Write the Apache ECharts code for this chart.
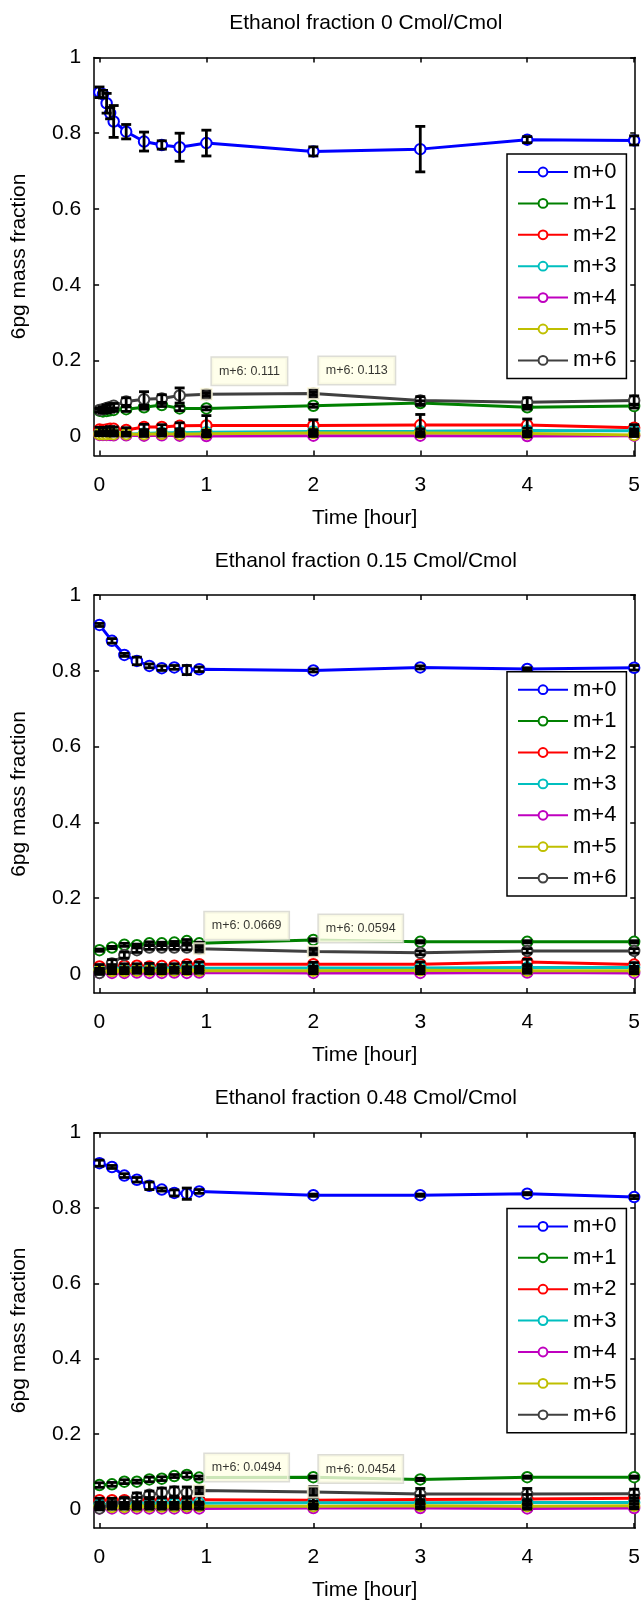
<!DOCTYPE html>
<html><head><meta charset="utf-8">
<script src="https://cdn.jsdelivr.net/npm/echarts@6/dist/echarts.min.js"></script>
<style>html,body{margin:0;padding:0;background:#fff}#c{width:643px;height:1602px}</style>
</head><body><div id="c"></div><script>
// ---------- data ----------
const seriesNames = ['m+0','m+1','m+2','m+3','m+4','m+5','m+6'];
const seriesColors = ['#0000ff','#008000','#ff0000','#00bfbf','#bf00bf','#bfbf00','#404040'];
const panelTitles = ['Ethanol fraction 0 Cmol/Cmol','Ethanol fraction 0.15 Cmol/Cmol','Ethanol fraction 0.48 Cmol/Cmol'];
const xTicks = [0,1,2,3,4,5];
const yTicks = [0,0.2,0.4,0.6,0.8,1];
const xLabel = 'Time [hour]';
const yLabel = '6pg mass fraction';

// Panel 1: ethanol fraction 0
const time0 = [0,0.033,0.067,0.1,0.133,0.25,0.417,0.583,0.75,1,2,3,4,5];
const e0_m0 = [0.908,0.903,0.879,0.853,0.831,0.804,0.778,0.769,0.763,0.774,0.752,0.758,0.783,0.781];
const e0_m1 = [0.068,0.066,0.067,0.069,0.07,0.072,0.077,0.083,0.074,0.074,0.081,0.088,0.077,0.08];
const e0_m2 = [0.018,0.017,0.018,0.02,0.02,0.017,0.025,0.025,0.028,0.029,0.029,0.03,0.03,0.023];
const e0_m3 = [0.008,0.008,0.009,0.009,0.008,0.006,0.008,0.01,0.01,0.011,0.013,0.014,0.016,0.015];
const e0_m4 = [0.004,0.004,0.004,0.004,0.003,0.003,0.002,0.003,0.002,0.001,0.002,0.002,0.001,0.002];
const e0_m5 = [0.006,0.006,0.006,0.007,0.006,0.006,0.006,0.007,0.006,0.007,0.009,0.009,0.008,0.004];
const e0_m6 = [0.07,0.072,0.075,0.078,0.081,0.092,0.098,0.1,0.108,0.111,0.113,0.095,0.09,0.095];
const e0_m0_err = [0.014,0.01,0.026,0.015,0.042,0.019,0.025,0.011,0.037,0.034,0.012,0.06,0.008,0.012];
const e0_m1_err = [0.004,0.004,0.005,0.005,0.004,0.006,0.005,0.004,0.006,0.004,0.004,0.006,0.005,0.005];
const e0_m2_err = [0.006,0.005,0.006,0.006,0.005,0.006,0.007,0.006,0.008,0.026,0.015,0.028,0.016,0.008];
const e0_m3_err = [0.004,0.004,0.004,0.004,0.004,0.004,0.004,0.004,0.004,0.005,0.005,0.006,0.006,0.005];
const e0_m4_err = [0.002,0.002,0.002,0.002,0.002,0.002,0.002,0.002,0.002,0.002,0.002,0.002,0.002,0.002];
const e0_m5_err = [0.003,0.003,0.003,0.003,0.003,0.003,0.003,0.003,0.004,0.004,0.004,0.004,0.004,0.003];
const e0_m6_err = [0.005,0.006,0.008,0.008,0.006,0.01,0.02,0.01,0.02,0.004,0.004,0.01,0.012,0.012];
const e0_tipIdx = [9,10];

// Panel 2: ethanol fraction 0.15
const time15 = [0,0.117,0.233,0.35,0.467,0.583,0.7,0.817,0.933,2,3,4,5];
const e15_m0 = [0.921,0.879,0.842,0.826,0.813,0.807,0.809,0.802,0.804,0.801,0.809,0.805,0.808];
const e15_m1 = [0.063,0.07,0.077,0.076,0.081,0.081,0.083,0.087,0.081,0.09,0.085,0.085,0.085];
const e15_m2 = [0.02,0.021,0.022,0.022,0.02,0.021,0.022,0.025,0.026,0.026,0.026,0.032,0.025];
const e15_m3 = [0.012,0.013,0.013,0.013,0.013,0.014,0.014,0.015,0.015,0.016,0.016,0.017,0.017];
const e15_m4 = [0.003,0.003,0.003,0.004,0.003,0.003,0.004,0.003,0.004,0.003,0.003,0.004,0.003];
const e15_m5 = [0.008,0.008,0.008,0.009,0.009,0.009,0.009,0.01,0.009,0.009,0.01,0.009,0.009];
const e15_m6 = [0.003,0.028,0.05,0.063,0.07,0.07,0.07,0.07,0.0669,0.0594,0.056,0.061,0.061];
const e15_m0_err = [0.004,0.006,0.004,0.01,0.005,0.006,0.005,0.012,0.006,0.004,0.004,0.003,0.006];
const e15_m1_err = [0.003,0.003,0.004,0.003,0.004,0.003,0.003,0.004,0.003,0.003,0.003,0.003,0.003];
const e15_m2_err = [0.005,0.004,0.005,0.005,0.008,0.004,0.005,0.006,0.006,0.005,0.006,0.007,0.005];
const e15_m3_err = [0.003,0.003,0.003,0.003,0.003,0.003,0.003,0.003,0.003,0.003,0.003,0.003,0.003];
const e15_m4_err = [0.002,0.002,0.002,0.002,0.002,0.002,0.002,0.002,0.002,0.002,0.002,0.002,0.002];
const e15_m5_err = [0.003,0.003,0.003,0.003,0.006,0.003,0.003,0.004,0.003,0.003,0.003,0.003,0.003];
const e15_m6_err = [0.004,0.01,0.008,0.006,0.005,0.005,0.005,0.006,0.004,0.006,0.005,0.006,0.006];
const e15_tipIdx = [8,9];

// Panel 3: ethanol fraction 0.48
const time48 = [0,0.117,0.233,0.35,0.467,0.583,0.7,0.817,0.933,2,3,4,5];
const e48_m0 = [0.919,0.909,0.886,0.875,0.859,0.849,0.84,0.838,0.844,0.834,0.834,0.838,0.829];
const e48_m1 = [0.064,0.066,0.073,0.073,0.079,0.081,0.088,0.091,0.084,0.085,0.079,0.085,0.085];
const e48_m2 = [0.024,0.024,0.024,0.025,0.025,0.024,0.024,0.025,0.025,0.024,0.026,0.027,0.029];
const e48_m3 = [0.012,0.013,0.013,0.014,0.014,0.015,0.015,0.016,0.016,0.017,0.017,0.018,0.018];
const e48_m4 = [0.002,0.002,0.002,0.002,0.002,0.002,0.002,0.003,0.002,0.003,0.003,0.002,0.003];
const e48_m5 = [0.006,0.006,0.006,0.007,0.007,0.007,0.007,0.008,0.008,0.008,0.009,0.008,0.009];
const e48_m6 = [0.002,0.013,0.02,0.031,0.038,0.044,0.047,0.044,0.0494,0.0454,0.04,0.04,0.041];
const e48_m0_err = [0.008,0.004,0.005,0.006,0.01,0.004,0.008,0.015,0.005,0.003,0.003,0.003,0.004];
const e48_m1_err = [0.006,0.005,0.005,0.004,0.006,0.005,0.004,0.006,0.004,0.003,0.003,0.003,0.003];
const e48_m2_err = [0.005,0.005,0.006,0.006,0.006,0.006,0.007,0.008,0.01,0.012,0.01,0.012,0.008];
const e48_m3_err = [0.003,0.003,0.003,0.003,0.003,0.003,0.003,0.003,0.003,0.004,0.004,0.004,0.004];
const e48_m4_err = [0.002,0.002,0.002,0.002,0.002,0.002,0.002,0.002,0.002,0.002,0.002,0.002,0.002];
const e48_m5_err = [0.003,0.003,0.003,0.003,0.003,0.003,0.003,0.003,0.004,0.004,0.004,0.004,0.004];
const e48_m6_err = [0.004,0.006,0.01,0.012,0.01,0.012,0.012,0.015,0.008,0.015,0.015,0.015,0.012];
const e48_tipIdx = [8,9];

// ---------- assembly ----------
const panelTimes = [time0, time15, time48];
const panelValues = [
  [e0_m0,e0_m1,e0_m2,e0_m3,e0_m4,e0_m5,e0_m6],
  [e15_m0,e15_m1,e15_m2,e15_m3,e15_m4,e15_m5,e15_m6],
  [e48_m0,e48_m1,e48_m2,e48_m3,e48_m4,e48_m5,e48_m6]
];
const panelErrors = [
  [e0_m0_err,e0_m1_err,e0_m2_err,e0_m3_err,e0_m4_err,e0_m5_err,e0_m6_err],
  [e15_m0_err,e15_m1_err,e15_m2_err,e15_m3_err,e15_m4_err,e15_m5_err,e15_m6_err],
  [e48_m0_err,e48_m1_err,e48_m2_err,e48_m3_err,e48_m4_err,e48_m5_err,e48_m6_err]
];
const panelTips = [e0_tipIdx, e15_tipIdx, e48_tipIdx];

const FONT = '"Liberation Sans", Arial, Helvetica, sans-serif';
const gridTops = [57.4, 595, 1132.7];
const legendTops = [154, 671.7, 1208.4];
const GRID_LEFT = 94.1, GRID_W = 543.4, GRID_H = 398;
const XMIN = -0.05, XMAX = 5.01, YMIN = -0.05, YMAX = 1;

const grids = [], xAxes = [], yAxes = [], titles = [], legends = [], series = [];
const axisLineStyle = {color:'#000', width:1.5};

for (let p = 0; p < 3; p++) {
  grids.push({left:GRID_LEFT, top:gridTops[p], width:GRID_W, height:GRID_H, containLabel:false});
  [false, true].forEach(isTop => {
    xAxes.push({
      type:'value', gridIndex:p, position:isTop?'top':'bottom', min:XMIN, max:XMAX,
      axisLine:{show:true, onZero:false, lineStyle:axisLineStyle},
      axisTick:{show:true, inside:true, length:5, customValues:xTicks, lineStyle:axisLineStyle},
      axisLabel:{show:!isTop, customValues:xTicks, margin:19, fontSize:21, color:'#000', fontFamily:FONT},
      splitLine:{show:false},
      name:isTop?'':xLabel, nameLocation:'middle', nameGap:52,
      nameTextStyle:{fontSize:21, color:'#000', fontFamily:FONT}
    });
    yAxes.push({
      type:'value', gridIndex:p, position:isTop?'right':'left', min:YMIN, max:YMAX,
      axisLine:{show:true, onZero:false, lineStyle:axisLineStyle},
      axisTick:{show:true, inside:true, length:5, customValues:yTicks, lineStyle:axisLineStyle},
      axisLabel:{show:!isTop, customValues:yTicks, margin:13, fontSize:21, color:'#000', fontFamily:FONT},
      splitLine:{show:false},
      name:isTop?'':yLabel, nameLocation:'middle', nameGap:64,
      nameTextStyle:{fontSize:21, color:'#000', fontFamily:FONT}
    });
  });
  titles.push({
    text:panelTitles[p], left:GRID_LEFT + GRID_W/2, textAlign:'center', top:gridTops[p]-44.5, padding:0,
    textStyle:{fontSize:21, fontWeight:'normal', color:'#000', fontFamily:FONT}
  });
  legends.push({
    data:seriesNames, orient:'vertical', left:507, top:legendTops[p], selectedMode:false,
    backgroundColor:'#fff', borderColor:'#000', borderWidth:1.5, borderRadius:0,
    padding:[7,10,7,10], itemWidth:50, itemHeight:11, itemGap:9.4,
    textStyle:{fontSize:22, lineHeight:22, color:'#000', fontFamily:FONT}
  });

  const t = panelTimes[p];
  const errData = [];
  seriesNames.forEach((name, k) => {
    const vals = panelValues[p][k];
    const errs = panelErrors[p][k];
    series.push({
      type:'line', name:name, xAxisIndex:p*2, yAxisIndex:p*2,
      data:t.map((x,i)=>[x, vals[i]]),
      symbol:'emptyCircle', symbolSize:10.5, showSymbol:true,
      lineStyle:{color:seriesColors[k], width:3},
      itemStyle:{color:seriesColors[k], borderColor:seriesColors[k], borderWidth:3.5},
      z:2+k*0.01, animation:false, silent:true
    });
    t.forEach((x,i)=>errData.push([x, vals[i], errs[i]]));
  });
  series.push({
    type:'custom', name:'errorbars'+p, xAxisIndex:p*2, yAxisIndex:p*2, z:5, silent:true, animation:false,
    data:errData,
    encode:{x:0, y:1},
    renderItem:function(params, api){
      const x = api.value(0), y = api.value(1), e = api.value(2);
      const top = api.coord([x, y+e]), bot = api.coord([x, y-e]);
      const hw = 5;
      const st = {stroke:'#000', lineWidth:2.8};
      return {type:'group', children:[
        {type:'line', shape:{x1:top[0], y1:top[1], x2:bot[0], y2:bot[1]}, style:st},
        {type:'line', shape:{x1:top[0]-hw, y1:top[1], x2:top[0]+hw, y2:top[1]}, style:st},
        {type:'line', shape:{x1:bot[0]-hw, y1:bot[1], x2:bot[0]+hw, y2:bot[1]}, style:st}
      ]};
    }
  });
  const tipSeriesVals = panelValues[p][6];
  series.push({
    type:'scatter', name:'datatip'+p, xAxisIndex:p*2, yAxisIndex:p*2, z:10, silent:true, animation:false,
    data:panelTips[p].map(i=>[t[i], tipSeriesVals[i]]),
    symbol:'rect', symbolSize:11,
    itemStyle:{color:'#000', borderColor:'#fffbe0', borderWidth:2},
    label:{show:true, position:[12,-30], align:'left', verticalAlign:'top',
      formatter:(d)=> seriesNames[6] + ': ' + d.value[1],
      fontSize:12.5, color:'#000', fontFamily:FONT,
      backgroundColor:'#ffffe6', borderColor:'#d4d4cc', borderWidth:1.5, padding:[7,7,7,7]}
  });
}

const chart = echarts.init(document.getElementById('c'), null, {renderer:'canvas'});
chart.setOption({
  backgroundColor:'#fff', animation:false,
  textStyle:{fontFamily:FONT},
  title:titles, legend:legends, grid:grids, xAxis:xAxes, yAxis:yAxes, series:series
});
</script></body></html>
